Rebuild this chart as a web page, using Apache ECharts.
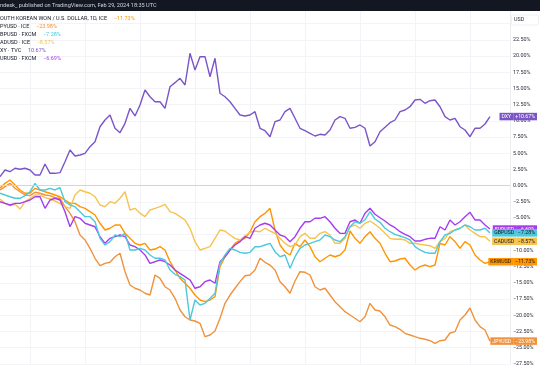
<!DOCTYPE html>
<html><head><meta charset="utf-8">
<script src="https://cdn.jsdelivr.net/npm/echarts@6/dist/echarts.min.js"></script>
<style>html,body{margin:0;padding:0;background:#fff}#c{width:540px;height:370px}</style>
</head><body><div id="c"></div>
<script>
// day index categories (data occupies first 99, rest is right padding of the price scale area)
const days = [];
for (let i = 0; i <= 102; i++) days.push(String(i));

const dxy = [1.39,2.42,2.16,2.69,2.53,2.69,2.42,1.65,1.65,3.35,1.91,1.91,2.01,3.70,5.51,4.58,4.74,5.00,6.02,6.79,9.10,10.14,10.91,8.86,8.18,9.63,11.94,10.76,12.45,14.77,13.73,12.96,12.96,11.94,15.28,15.90,16.57,15.54,20.43,17.85,19.91,19.91,16.82,19.66,14.26,13.73,12.96,11.94,10.91,10.76,10.91,11.42,8.86,8.49,7.56,9.88,10.14,11.42,11.94,10.40,8.86,8.49,8.09,7.67,7.93,7.82,8.60,10.14,10.65,10.40,8.86,9.01,9.37,8.86,6.13,6.79,8.33,9.01,9.72,10.14,11.42,11.68,12.19,13.23,13.33,12.72,13.12,13.23,12.19,10.65,10.14,10.40,9.10,8.60,7.56,8.86,8.86,9.52,10.67];
const eurusd = [-2.47,-2.72,-2.98,-2.72,-2.72,-2.47,-2.21,-1.70,-1.70,-3.49,-2.21,-1.94,-2.21,-4.01,-6.33,-4.78,-5.03,-5.80,-6.06,-6.33,-7.87,-8.89,-8.12,-7.87,-7.61,-7.87,-9.15,-9.41,-9.92,-10.69,-11.98,-11.73,-11.47,-11.73,-12.24,-13.01,-13.52,-14.04,-14.55,-15.83,-15.59,-14.81,-14.55,-15.06,-11.73,-10.96,-9.92,-9.15,-8.64,-7.87,-8.12,-6.57,-6.06,-5.80,-6.06,-6.84,-7.61,-7.87,-8.64,-7.87,-6.57,-5.56,-5.56,-5.03,-5.03,-4.78,-5.56,-6.57,-7.35,-7.35,-5.56,-5.29,-5.80,-4.26,-3.49,-4.41,-4.94,-5.45,-6.06,-6.48,-7.10,-7.50,-7.87,-8.53,-8.53,-8.27,-8.12,-8.12,-6.33,-6.84,-5.29,-6.06,-5.56,-4.78,-4.10,-5.29,-5.29,-6.06,-6.69];
const gbpusd = [-1.17,-1.44,-1.70,-1.94,-1.94,-1.54,-0.93,0.37,-0.66,-0.66,-0.40,-0.66,-0.31,-2.47,-2.98,-3.24,-4.01,-4.78,-4.78,-5.56,-8.12,-9.15,-8.64,-7.61,-7.87,-7.35,-9.92,-9.92,-9.66,-9.92,-10.69,-11.20,-11.20,-11.47,-13.01,-13.67,-14.04,-14.55,-20.73,-17.64,-18.41,-18.15,-17.38,-16.60,-11.98,-10.69,-9.66,-9.92,-10.28,-10.43,-10.28,-9.41,-9.41,-9.15,-8.89,-10.19,-10.96,-10.69,-12.75,-10.96,-9.66,-9.15,-8.89,-8.64,-8.38,-7.61,-7.87,-8.38,-8.64,-7.87,-6.33,-5.56,-5.80,-5.29,-4.01,-5.14,-5.65,-6.57,-7.10,-7.50,-7.76,-8.02,-8.38,-9.41,-9.92,-10.28,-10.43,-10.43,-8.64,-7.61,-7.35,-6.84,-6.57,-6.06,-6.33,-6.84,-6.84,-6.57,-7.28];
const cadusd = [-2.05,-2.72,-3.09,-2.87,-3.60,-2.47,-1.94,-1.44,-1.44,-1.85,-2.05,-2.36,-2.72,-3.24,-3.49,-1.44,-0.66,-0.93,-1.17,-1.70,-2.98,-3.24,-2.47,-2.72,-1.94,-0.93,-3.75,-3.49,-4.26,-4.78,-3.75,-3.49,-3.24,-2.87,-4.01,-4.26,-4.78,-5.29,-6.57,-8.64,-9.92,-9.66,-9.41,-8.12,-6.84,-6.99,-7.61,-8.12,-8.38,-7.72,-7.19,-6.99,-7.10,-6.57,-6.99,-7.35,-8.12,-8.89,-9.41,-9.15,-7.87,-7.35,-8.12,-8.12,-7.35,-7.10,-7.61,-8.89,-8.89,-8.12,-6.33,-6.06,-6.57,-5.80,-5.45,-5.96,-6.57,-7.35,-8.12,-8.27,-8.22,-8.38,-8.89,-8.89,-9.04,-9.15,-9.26,-9.66,-8.64,-8.12,-7.10,-6.84,-6.57,-6.06,-6.84,-7.35,-7.87,-7.87,-8.57];
const krwusd = [-0.40,0.37,0.88,0.11,-0.66,-1.17,-1.17,-0.40,-0.66,-0.93,-1.17,-1.44,-1.70,-2.21,-2.72,-2.72,-3.24,-3.49,-4.01,-4.52,-5.80,-6.84,-6.57,-6.06,-6.06,-7.35,-8.12,-8.89,-9.15,-8.89,-9.92,-9.77,-9.41,-9.92,-11.73,-13.01,-14.29,-15.06,-15.83,-16.87,-17.64,-17.90,-17.64,-17.13,-12.50,-10.96,-9.92,-8.89,-8.38,-8.12,-7.10,-5.56,-4.78,-4.26,-3.49,-6.84,-9.15,-10.19,-10.69,-8.89,-9.41,-8.38,-9.41,-10.96,-11.73,-11.20,-10.69,-10.96,-10.69,-9.92,-6.99,-8.12,-8.89,-7.87,-7.10,-8.12,-8.89,-10.43,-11.73,-11.62,-11.31,-11.20,-12.24,-13.01,-12.50,-12.24,-12.50,-12.24,-8.89,-9.15,-7.87,-8.64,-9.66,-8.64,-9.15,-10.69,-11.47,-11.98,-11.73];
const jpyusd = [-0.66,-0.15,0.37,-0.40,-0.93,-1.44,-1.54,-1.02,-1.17,-1.44,-1.54,-1.85,-1.94,-3.24,-4.26,-5.56,-7.61,-8.38,-9.66,-11.20,-12.35,-11.98,-11.82,-10.96,-10.43,-13.27,-15.32,-15.83,-16.10,-16.60,-16.87,-13.78,-14.29,-15.59,-16.10,-17.38,-19.18,-20.22,-20.73,-20.88,-21.23,-23.30,-23.04,-22.42,-20.46,-18.15,-16.87,-15.83,-14.81,-13.89,-13.78,-13.01,-11.20,-11.82,-12.24,-13.01,-14.81,-15.59,-16.60,-14.71,-13.27,-13.36,-13.78,-15.59,-16.10,-15.83,-16.87,-17.90,-18.67,-19.44,-19.95,-20.46,-20.99,-20.22,-18.15,-19.18,-19.34,-20.22,-21.50,-21.76,-22.16,-22.78,-23.04,-23.30,-23.55,-23.70,-23.92,-24.32,-23.92,-23.81,-22.73,-22.53,-20.73,-19.95,-18.87,-20.73,-21.76,-22.27,-23.98];

const seriesNames = ['JPYUSD','KRWUSD','CADUSD','EURUSD','GBPUSD','DXY'];
const legendNames = ['OUTH KOREAN WON / U.S. DOLLAR, 1D, ICE','PYUSD · ICE','BPUSD · FXCM','ADUSD · ICE','XY · TVC','URUSD · FXCM'];
const headerText = 'ndesk_ published on TradingView.com, Feb 29, 2024 18:35 UTC';
const vGrid = [6, 17, 28, 39, 50, 61, 72, 83, 94];

const col = {DXY:'#7b55c7', EURUSD:'#a63cf0', GBPUSD:'#4cc9dc', CADUSD:'#f7c34e', KRWUSD:'#ff9500', JPYUSD:'#f0913c'};
const txt = {DXY:'#fff', EURUSD:'#fff', GBPUSD:'#131722', CADUSD:'#131722', KRWUSD:'#131722', JPYUSD:'#fff'};
const dataOf = {DXY:dxy, EURUSD:eurusd, GBPUSD:gbpusd, CADUSD:cadusd, KRWUSD:krwusd, JPYUSD:jpyusd};

function pct(v, plus){ const s = Math.abs(v).toFixed(2) + '%'; return v < 0 ? '\u2212' + s : (plus ? '+' + s : s); }
const FONT = 'Roboto, "Liberation Sans", sans-serif';

const series = seriesNames.map(n => {
  const d = dataOf[n];
  const s = {
    name: n, type: 'line', data: d, showSymbol: false, symbol: 'none',
    lineStyle: {color: col[n], width: 1.4}, itemStyle: {color: col[n]},
    animation: false, z: 3,
    endLabel: {
      show: true, distance: 0, align: 'right', offset: [47, 0],
      formatter: () => '{n|' + n + '}{v|' + pct(d[d.length-1], true) + '}',
      rich: {
        n: {backgroundColor: col[n], color: txt[n], fontSize: 5.2, fontFamily: FONT, padding: [1.5, 2, 1, 2], lineHeight: 7},
        v: {backgroundColor: col[n], color: txt[n], fontSize: 5.2, fontFamily: FONT, padding: [1.5, 2, 1, 2], lineHeight: 7}
      }
    }
  };
  if (n === 'DXY') {
    s.markLine = {silent: true, symbol: 'none', animation: false, label: {show: false},
      lineStyle: {color: '#d1d4dc', width: 1.2, type: 'solid'}, data: [{yAxis: 0}]};
  }
  return s;
});

const legendOrder = ['KRWUSD','JPYUSD','GBPUSD','CADUSD','DXY','EURUSD'];
const graphics = [
  {type: 'rect', z: 100, shape: {x: 0, y: 0, width: 540, height: 11}, style: {fill: '#131722'}},
  {type: 'text', z: 101, x: 0, y: 5.5, style: {text: headerText, fill: '#d1d4dc', fontSize: 5.6, fontFamily: FONT, verticalAlign: 'middle'}},
  {type: 'rect', z: 100, shape: {x: 511.5, y: 15, width: 27, height: 10, r: 1}, style: {fill: '#fff', stroke: '#e6e8ee', lineWidth: 0.6}},
  {type: 'text', z: 101, x: 514, y: 20, style: {text: 'USD', fill: '#2a2e39', fontSize: 5.4, fontFamily: FONT, verticalAlign: 'middle'}}
];
legendOrder.forEach((n, i) => {
  const d = dataOf[n];
  graphics.push({type: 'text', z: 101, x: 0, y: 19 + i * 8, style: {
    text: '{a|' + legendNames[i] + '}  {b|' + pct(d[d.length-1], false) + '}',
    verticalAlign: 'middle',
    rich: {a: {fill: '#131722', fontSize: 5.5, fontFamily: FONT}, b: {fill: col[n], fontSize: 5.5, fontFamily: FONT}}
  }});
});

const chart = echarts.init(document.getElementById('c'), null, {renderer: 'canvas'});
chart.setOption({
  animation: false,
  backgroundColor: '#fff',
  grid: {left: 0, top: 7.5, width: 510, height: 356.4, containLabel: false},
  xAxis: {type: 'category', data: days, boundaryGap: false,
    axisLine: {show: false}, axisTick: {show: false}, axisLabel: {show: false},
    splitLine: {show: true, interval: (idx) => vGrid.includes(idx), lineStyle: {color: '#f2f3f6', width: 1}}},
  yAxis: {type: 'value', position: 'right', min: -27.5, max: 27.5, interval: 2.5,
    axisLine: {show: true, lineStyle: {color: '#eceef2'}}, axisTick: {show: false},
    splitLine: {show: true, lineStyle: {color: '#f3f4f7', width: 1}},
    axisLabel: {margin: 3, color: '#2a2e39', fontSize: 5.4, fontFamily: FONT,
      formatter: v => (v > 22.5) ? '' : pct(v, false)}},
  series: series,
  graphic: graphics
});
</script></body></html>
